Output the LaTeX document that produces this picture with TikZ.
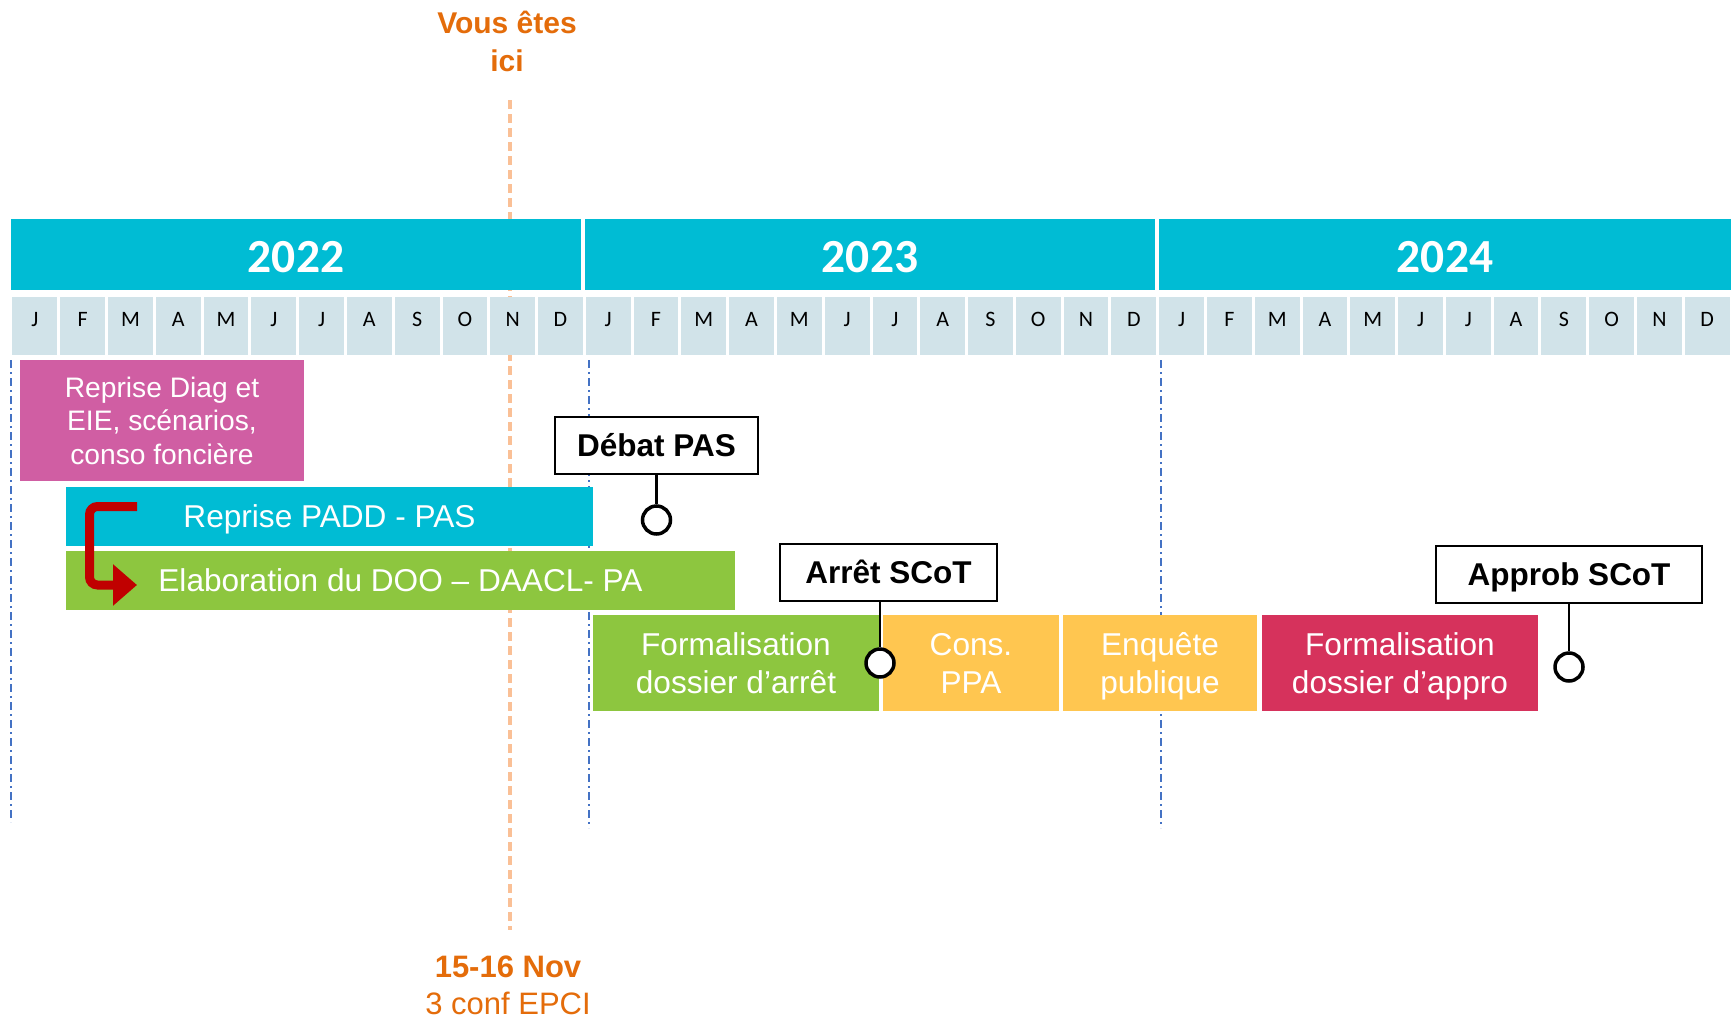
\documentclass[tikz,border=0pt]{standalone}
\usepackage{fontspec}
\setmainfont{Liberation Sans}
\newfontfamily\calib{Carlito}
\usetikzlibrary{arrows.meta}
\definecolor{yrteal}{RGB}{0,188,212}
\definecolor{mcell}{RGB}{209,227,233}
\definecolor{phpink}{RGB}{208,94,163}
\definecolor{phgreen}{RGB}{141,198,63}
\definecolor{phyellow}{RGB}{255,198,80}
\definecolor{phred}{RGB}{214,50,92}
\definecolor{darkred}{RGB}{192,0,0}
\definecolor{ortext}{RGB}{228,108,10}
\definecolor{peach}{RGB}{250,192,150}
\definecolor{bluedd}{RGB}{68,114,196}
\newcommand\cl[1]{\vrule width0pt height0.716em depth0pt\smash{#1}}
\begin{document}
\begin{tikzpicture}[x=1pt,y=-1pt,
  yearbox/.style={fill=yrteal, minimum height=71pt, inner sep=0pt, outer sep=0pt},
  yeartxt/.style={text=white, font=\calib\bfseries\fontsize{47.5}{50}\selectfont, inner sep=0pt, anchor=base},
  monthbox/.style={fill=mcell, minimum width=44.8pt, minimum height=58pt, inner sep=0pt},
  monthtxt/.style={text=black, font=\calib\fontsize{22}{24}\selectfont, inner sep=0pt, anchor=base},
  phase/.style={fill=#1, text=white, inner sep=0pt, align=center, font=\fontsize{31.6}{38}\selectfont},
  milestone/.style={draw=black, line width=2pt, fill=white, inner sep=0pt, minimum height=57pt, font=\bfseries\fontsize{31.5}{38}\selectfont},
  pinring/.style={circle, draw=black, line width=3.5pt, fill=white, minimum size=28pt, inner sep=0pt},
  stem/.style={draw=black, line width=2.5pt},
  nowline/.style={draw=peach, line width=3.5pt, dash pattern=on 9pt off 5pt},
  yearline/.style={draw=bluedd, line width=2pt, dash pattern=on 8pt off 4pt on 2pt off 4pt},
  turnarrow/.style={draw=darkred, line width=9pt, rounded corners=8pt, -{Triangle[length=24pt,width=40pt]}},
  notelabel/.style={text=ortext, inner sep=0pt, align=center}
]
\path[fill=white, use as bounding box] (0,0) rectangle (1735,1020);

% reference lines
\coordinate (otop) at (510,100);
\coordinate (obot) at (510,930);
\draw[nowline] (otop) -- (obot);
\coordinate (b1t) at (11,360);  \coordinate (b1b) at (11,822);
\coordinate (b2t) at (589,360); \coordinate (b2b) at (589,828);
\coordinate (b3t) at (1161,360);\coordinate (b3b) at (1161,828);
\draw[yearline] (b1t) -- (b1b);
\draw[yearline] (b2t) -- (b2b);
\draw[yearline] (b3t) -- (b3b);

% years
\node[yearbox, minimum width=570pt] (y22) at (296,254.5) {};
\node[yearbox, minimum width=570pt] (y23) at (870,254.5) {};
\node[yearbox, minimum width=572pt] (y24) at (1445,254.5) {};
\node[yeartxt] (t22) at (296,272) {2022};
\node[yeartxt] (t23) at (870,272) {2023};
\node[yeartxt] (t24) at (1445,272) {2024};

% months
\foreach \l [count=\i from 0] in {J,F,M,A,M,J,J,A,S,O,N,D,J,F,M,A,M,J,J,A,S,O,N,D,J,F,M,A,M,J,J,A,S,O,N,D}{
  \node[monthbox] (m\i) at ({11+47.78*(\i+0.5)},326) {};
  \node[monthtxt] (ml\i) at ({11+47.78*(\i+0.5)},326) {\l};
}

% phases
\node[phase=phpink, minimum width=284pt, minimum height=121pt, font=\fontsize{28.2}{33.5}\selectfont] (diag) at (162,420.5)
  {\cl{Reprise Diag et}\\\cl{EIE, scénarios,}\\\cl{conso foncière}};
\node[phase=yrteal, minimum width=527pt, minimum height=59pt] (padd) at (329.5,516.5) {\cl{Reprise PADD - PAS}};
\node[phase=phgreen, minimum width=669pt, minimum height=59pt] (doo) at (400.5,580.5) {\cl{Elaboration du DOO -- DAACL- PA}};
\node[phase=phgreen, minimum width=286pt, minimum height=96pt] (farret) at (736,663) {\cl{Formalisation}\\\cl{dossier d’arrêt}};
\node[phase=phyellow, minimum width=176pt, minimum height=96pt] (ppa) at (971,663) {\cl{Cons.}\\\cl{PPA}};
\node[phase=phyellow, minimum width=194pt, minimum height=96pt] (enq) at (1160,663) {\cl{Enquête}\\\cl{publique}};
\node[phase=phred, minimum width=276pt, minimum height=96pt] (fappro) at (1400,663) {\cl{Formalisation}\\\cl{dossier d’appro}};

% bent arrow
\coordinate (arrS) at (137,506.5);
\coordinate (arrE) at (137,585);
\draw[turnarrow] (arrS) -- (89.5,506.5) -- (89.5,585) -- (arrE);

% milestones
\node[milestone, minimum width=203pt] (debat) at (656.5,445.5) {\cl{Débat PAS}};
\node[milestone, minimum width=217pt] (arret) at (888.5,572.5) {\cl{Arrêt SCoT}};
\node[milestone, minimum width=266pt] (approb) at (1569,574.5) {\cl{Approb SCoT}};
\node[pinring] (p1) at (656.5,520) {};
\node[pinring] (p2) at (880,663) {};
\node[pinring] (p3) at (1569,667) {};
\draw[stem] (debat.south) -- (p1.north);
\draw[stem] (arret.south -| p2.north) -- (p2.north);
\draw[stem] (approb.south) -- (p3.north);

% notes
\node[notelabel, font=\bfseries\fontsize{30}{37.4}\selectfont] (ici) at (507,41.7) {\cl{Vous êtes}\\\cl{ici}};
\node[notelabel, font=\fontsize{31}{37.5}\selectfont] (conf) at (508,985) {{\bfseries\cl{15-16 Nov}}\\\cl{3 conf EPCI}};
\end{tikzpicture}
\end{document}
